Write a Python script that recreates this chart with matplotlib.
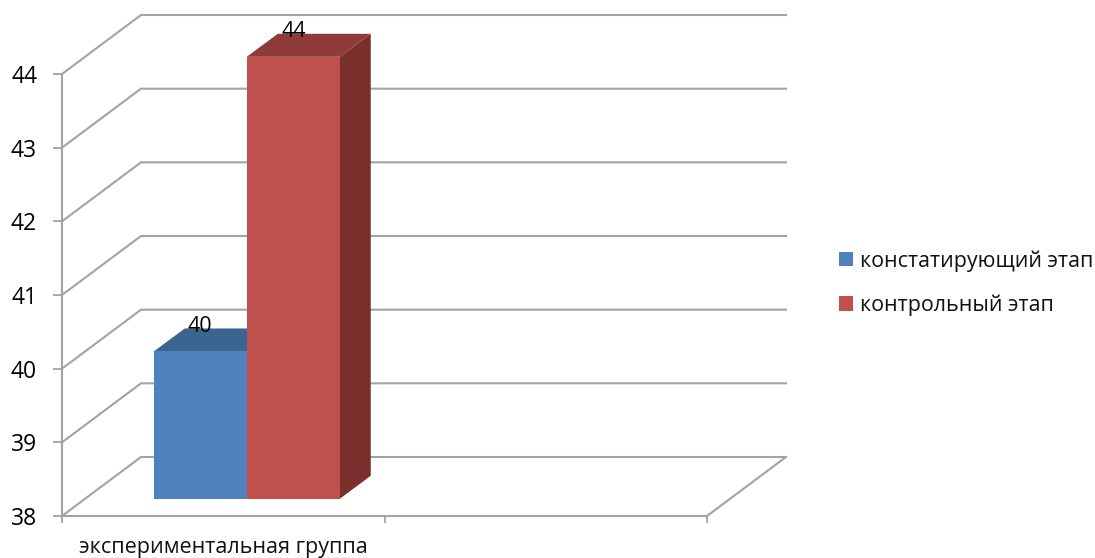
import matplotlib
matplotlib.use("Agg")
import matplotlib.pyplot as plt
from matplotlib.patches import Polygon

plt.rcParams['font.family'] = ['Open Sans', 'DejaVu Sans']

categories = ["экспериментальная группа"]
series_names = ["констатирующий этап", "контрольный этап"]
series_values = [[40], [44]]
y_ticks = [38, 39, 40, 41, 42, 43, 44]

colors_front = ["#4F81BD", "#C0504D"]
colors_top = ["#3C6491", "#8F3B39"]
colors_side = ["#2F4F75", "#7B2F2C"]
GREY = "#A3A3A3"

W, H = 1095, 558
fig = plt.figure(figsize=(W / 100, H / 100), dpi=100, facecolor="white")
L, R, T, B = 62, 707, 74, 516
ax = fig.add_axes([L / W, (H - B) / H, (R - L) / W, (B - T) / H])
ax.set_xlim(0, 2)
ax.set_ylim(38, 44)
for s in ("top", "right"):
    ax.spines[s].set_visible(False)
for s in ("left", "bottom"):
    ax.spines[s].set_color(GREY)
    ax.spines[s].set_linewidth(1.5)

# depth of the pseudo-3D box in data units
px_x = 2 / (R - L)
px_y = 6 / (B - T)
dx, dy = 79 * px_x, 59 * px_y
fx, fy = 23.5 * px_x, 17.2 * px_y      # gap from front plane to bar front
bx, by = 31 * px_x, 23 * px_y          # bar depth
bar_w = 93 * px_x

for y in y_ticks:
    ax.plot([0, dx, 2 + dx], [y, y + dy, y + dy], color=GREY, lw=1.5,
            clip_on=False, zorder=1, solid_joinstyle="miter")
ax.plot([2, 2 + dx], [38, 38 + dy], color=GREY, lw=1.5, clip_on=False, zorder=1)

handles = []
for i, (name, vals) in enumerate(zip(series_names, series_values)):
    for c, v in enumerate(vals):
        x0 = c + 0.5 + fx + (i - 1) * bar_w
        x1 = x0 + bar_w
        base = 38 + fy
        top = v + fy
        ax.add_patch(Polygon([(x0, top), (x1, top), (x1 + bx, top + by), (x0 + bx, top + by)],
                             closed=True, fc=colors_top[i], ec="none", clip_on=False, zorder=2 + i))
        ax.add_patch(Polygon([(x1, base), (x1 + bx, base + by), (x1 + bx, top + by), (x1, top)],
                             closed=True, fc=colors_side[i], ec="none", clip_on=False, zorder=2 + i))
    b = ax.bar([c + 0.5 + fx + (i - 0.5) * bar_w for c in range(len(categories))],
               [v - 38 for v in vals], width=bar_w, bottom=38 + fy, color=colors_front[i],
               label=name, clip_on=False, zorder=3 + i)
    handles.append(b)
    for c, v in enumerate(vals):
        ax.text(c + 0.5 + fx + (i - 0.5) * bar_w, v + 42.5 * px_y, str(v), ha="center", va="center",
                fontsize=15.5, color="black", zorder=10, clip_on=False)

ax.set_yticks(y_ticks)
ax.tick_params(axis="y", length=6.5, width=1.3, color=GREY, pad=11.5, labelsize=16.5, labelcolor="black")
ax.set_xticks([0, 1, 2])
ax.set_xticklabels([])
ax.tick_params(axis="x", length=5, width=1.3, color=GREY)
ax.text(0.5, 38 - 32 * px_y, categories[0], ha="center", va="center", fontsize=15.5, color="#111111", clip_on=False)

fig.legend(handles=handles, labels=series_names, loc="upper left",
           bbox_to_anchor=(838.5 / W, 1 - 250 / H), borderaxespad=0, borderpad=0,
           frameon=False, fontsize=15.4, handlelength=0.66, handleheight=0.66,
           handletextpad=0.36, labelspacing=1.08, labelcolor="#111111")

fig.savefig("out.png", dpi=100, facecolor="white")
